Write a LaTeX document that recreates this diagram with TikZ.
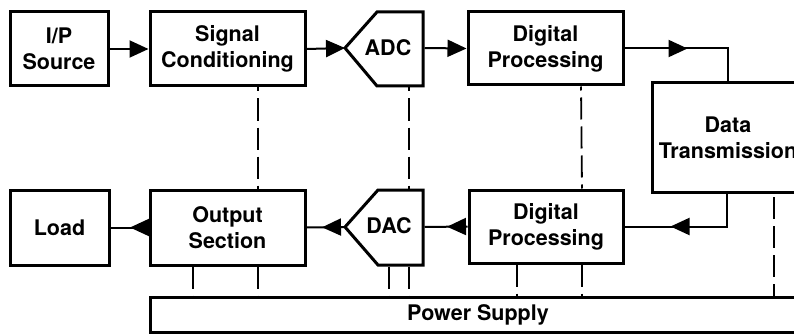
\documentclass[tikz,border=0pt]{standalone}
\usepackage{fontspec}
\setmainfont{TeX Gyre Heros}
\usetikzlibrary{arrows.meta,decorations.markings,calc}
\begin{document}
\begin{tikzpicture}[x=1pt,y=-1pt,
  block/.style={draw, line width=3pt, line join=miter, align=center, inner sep=0pt,
    font=\fontsize{21.5}{26}\selectfont\bfseries},
  txt/.style={align=center, inner sep=0pt, font=\fontsize{21.5}{26}\selectfont\bfseries},
  conn/.style={line width=2pt},
  Tri/.tip={Triangle[length=19pt,width=17pt]},
  endarrow/.style={conn,-{Tri}},
  midarrow/.style={conn,postaction={decorate},
    decoration={markings,mark=at position #1 with {\arrow{Tri}}}},
  dl/.style={line width=1.8pt, dash pattern=on 22pt off 7pt}
]
\useasboundingbox (0,0) rectangle (794,334);
\clip (0,0) rectangle (794,334);
\fill[white] (0,0) rectangle (794,334);

% top row
\node[block, minimum width=98pt, minimum height=74pt] (src) at (59,49) {I/P\\Source};
\node[block, minimum width=155pt, minimum height=74pt] (sc) at (227.5,49) {Signal\\Conditioning};
\node[txt] (adc) at (388,48) {ADC};
\draw[line width=3pt, line join=miter] (345,48) coordinate (adcin) -- (377,12) -- (423,12)
  -- (423,86) -- (377,86) -- cycle;
\coordinate (adcout) at (424.5,48);
\coordinate (adcbot) at (409,87.5);
\node[block, minimum width=155pt, minimum height=73pt] (dp1) at (545.5,48.5) {Digital\\Processing};
\node[block, minimum width=152pt, minimum height=110pt] (dt) at (728,137.5) {Data\\Transmission};

% bottom row
\node[block, minimum width=99pt, minimum height=75pt] (load) at (59.5,227.5) {Load};
\node[block, minimum width=155pt, minimum height=75pt] (out) at (227.5,227.5) {Output\\Section};
\node[txt] (dac) at (389,226) {DAC};
\draw[line width=3pt, line join=miter] (345,227) coordinate (dacin) -- (378,190) -- (423,190)
  -- (423,265) -- (378,265) -- cycle;
\coordinate (dacout) at (424.5,227);
\coordinate (dactop) at (409,188.5);
\coordinate (dacbotA) at (389,266.5);
\coordinate (dacbotB) at (409,266.5);
\node[block, minimum width=154pt, minimum height=73pt] (dp2) at (546,226.5) {Digital\\Processing};
\node[block, minimum width=656pt, minimum height=35pt] (ps) at (478,315) {Power Supply};

% signal connectors
\draw[endarrow] (src.east) -- (sc.west);
\draw[endarrow] (sc.east) -- (adcin);
\draw[endarrow] (adcout) -- (dp1.west);
\draw[midarrow=63pt] (dp1.east) -| (dt.north);
\draw[midarrow=89pt] ([xshift=-1pt]dt.south) |- (dp2.east);
\draw[midarrow=20.5pt] (dp2.west) -- (dacout);
\draw[midarrow=23pt] (dacin) -- (out.east);
\draw[midarrow=18.5pt] (out.west) -- (load.east);

% dashed links between rows
\draw[dl, dash phase=18pt] ([xshift=30.5pt]sc.south) -- ([xshift=30.5pt]out.north);
\draw[dl, dash phase=18pt] (adcbot) -- (dactop);
\draw[dl, dash phase=18pt] ([xshift=35.5pt]dp1.south) -- ([xshift=36pt]dp2.north);

% dashed links to power supply
\draw[dl] ([xshift=-34.5pt]out.south) -- ([xshift=-34.5pt]out.south |- ps.north);
\draw[dl] ([xshift=30.5pt]out.south) -- ([xshift=30.5pt]out.south |- ps.north);
\draw[dl] (dacbotA) -- (dacbotA |- ps.north);
\draw[dl] (dacbotB) -- (dacbotB |- ps.north);
\draw[dl] ([xshift=-29pt]dp2.south) -- ([xshift=-29pt]dp2.south |- ps.north);
\draw[dl] ([xshift=36pt]dp2.south) -- ([xshift=36pt]dp2.south |- ps.north);
\draw[dl, dash phase=-3pt] ([xshift=46pt]dt.south) -- ([xshift=46pt]dt.south |- ps.north);
\end{tikzpicture}
\end{document}
